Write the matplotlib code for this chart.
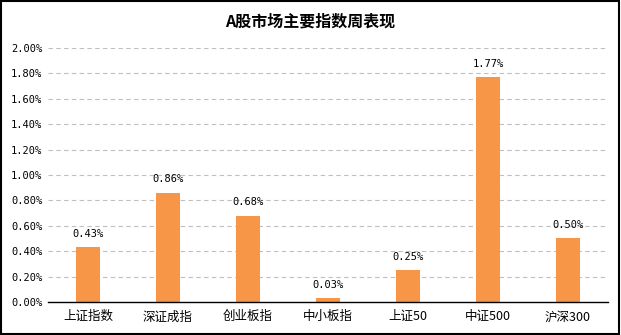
import matplotlib
matplotlib.use("Agg")
import matplotlib.pyplot as plt
from matplotlib.ticker import FuncFormatter, MultipleLocator
from matplotlib.patches import Rectangle

plt.rcParams['font.family'] = ['Noto Sans CJK SC', 'DejaVu Sans']

categories = ["上证指数", "深证成指", "创业板指", "中小板指", "上证50", "中证500", "沪深300"]
weekly_change = [0.43, 0.86, 0.68, 0.03, 0.25, 1.77, 0.50]
title = "A股市场主要指数周表现"

bar_color = "#F79646"

fig = plt.figure(figsize=(6.21, 3.35), dpi=100)
ax = fig.add_axes([0.0773, 0.0985, 0.9017, 0.7585])

x = range(len(categories))
bars = ax.bar(x, weekly_change, width=0.31, color=bar_color, zorder=3)

for xi, v in zip(x, weekly_change):
    ax.annotate(f"{v:.2f}%", (xi, v), xytext=(0, 6), textcoords="offset points",
                ha="center", va="bottom", fontsize=7.5, family="DejaVu Sans Mono")

ax.set_xlim(-0.5, len(categories) - 0.5)
ax.set_ylim(0, 2.0)
ax.yaxis.set_major_locator(MultipleLocator(0.2))
ax.yaxis.set_major_formatter(FuncFormatter(lambda v, p: f"{v:.2f}%"))
ax.set_xticks(list(x))
ax.set_xticklabels(categories, fontsize=9)
for lbl in ax.get_yticklabels():
    lbl.set_family("DejaVu Sans Mono")
    lbl.set_fontsize(7.5)

ax.tick_params(axis="both", length=0)
ax.tick_params(axis="y", pad=4)
ax.tick_params(axis="x", pad=6)
ax.grid(axis="y", color="#BFBFBF", linestyle=(0, (4, 3)), linewidth=0.8, zorder=0)
for side in ("top", "right", "left"):
    ax.spines[side].set_visible(False)
ax.spines["bottom"].set_color("black")
ax.spines["bottom"].set_linewidth(1.0)
ax.spines["bottom"].set_zorder(4)

fig.text(0.5, 0.935, title, ha="center", va="center", fontsize=11.5, fontweight="bold")

fig.patches.append(Rectangle((0.002, 0.003), 0.995, 0.993, transform=fig.transFigure,
                             fill=False, edgecolor="black", linewidth=1.5))

fig.savefig("out.png", dpi=100)
